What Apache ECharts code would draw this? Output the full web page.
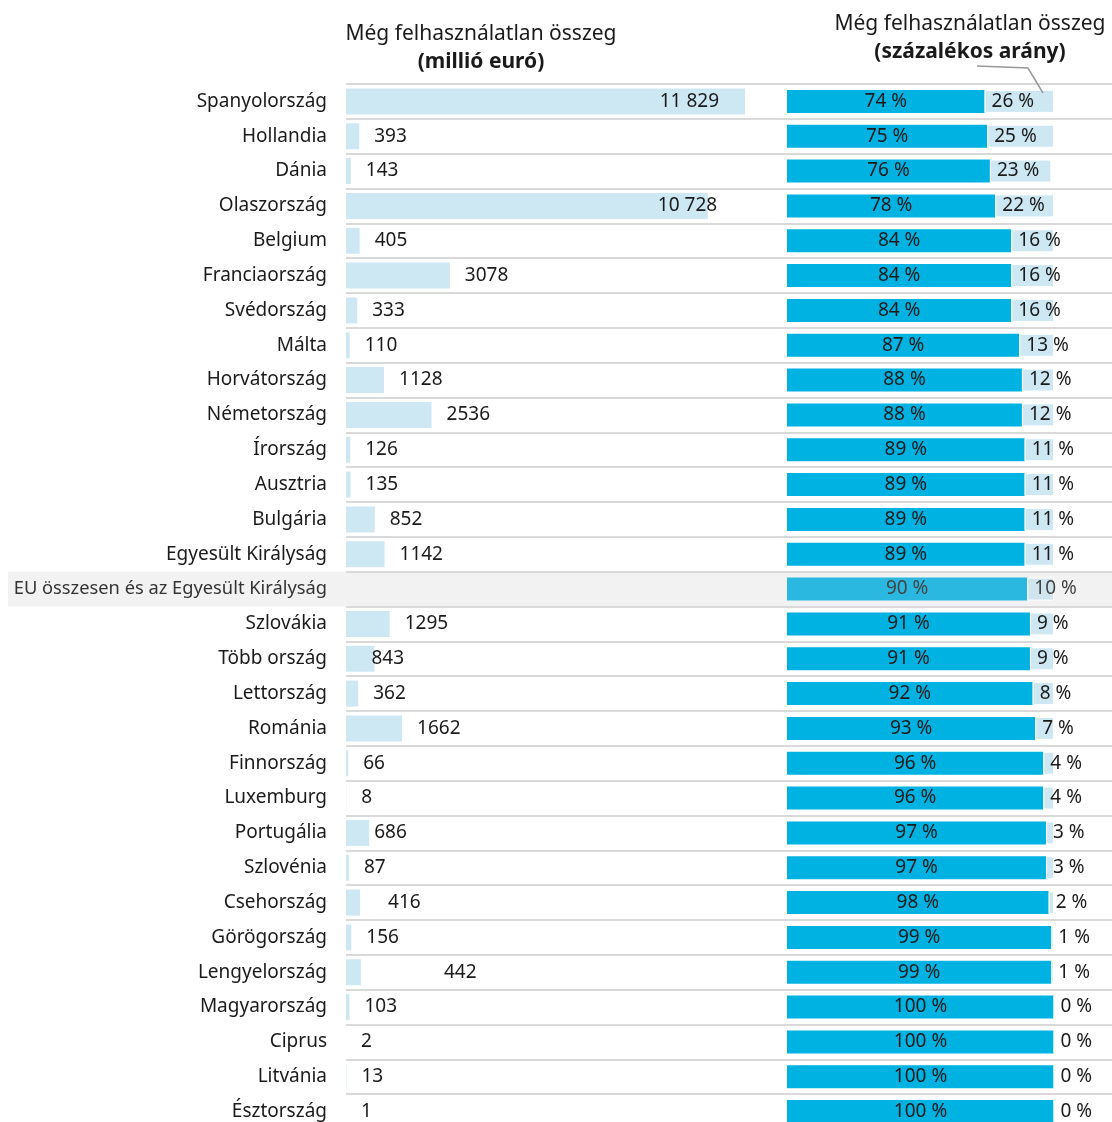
<!DOCTYPE html>
<html>
<head>
<meta charset="utf-8">
<script src="https://cdn.jsdelivr.net/npm/echarts@6/dist/echarts.min.js"></script>
<style>html,body{margin:0;padding:0;background:#fff;overflow:hidden}#c{width:1112px;height:1140px}</style>
</head>
<body>
<div id="c"></div>
<script>
const categories = ["Spanyolország","Hollandia","Dánia","Olaszország","Belgium","Franciaország","Svédország","Málta","Horvátország","Németország","Írország","Ausztria","Bulgária","Egyesült Királyság","EU összesen és az Egyesült Királyság","Szlovákia","Több ország","Lettország","Románia","Finnország","Luxemburg","Portugália","Szlovénia","Csehország","Görögország","Lengyelország","Magyarország","Ciprus","Litvánia","Észtország"];
const unusedMillion = [11829,393,143,10728,405,3078,333,110,1128,2536,126,135,852,1142,null,1295,843,362,1662,66,8,686,87,416,156,442,103,2,13,1];
const usedPct = [74,75,76,78,84,84,84,87,88,88,89,89,89,89,90,91,91,92,93,96,96,97,97,98,99,99,100,100,100,100];
const unusedPct = [26,25,23,22,16,16,16,13,12,12,11,11,11,11,10,9,9,8,7,4,4,3,3,2,1,1,0,0,0,0];
const leftTitle = ["Még felhasználatlan összeg","(millió euró)"];
const rightTitle = ["Még felhasználatlan összeg","(százalékos arány)"];
const totalRow = "EU összesen és az Egyesült Királyság";

const FONT = "Noto Sans";
const TXT = "#1a1a1a";
const DARK = "#00b2e2", LIGHT = "#cde8f3";
const DARK_T = "#2bb8e0", LIGHT_T = "#cfe4ec";
const TOP = 84, H = 1045;
const FS = 19;

const leftLabelAdj = {0:{position:'insideRight',distance:26},3:{offset:[-65,0]},16:{offset:[-18,0]},21:{offset:[-10,0]},23:{offset:[13,0]},25:{offset:[68,0]}};

function fmt(v){ v = Number(v); return v >= 10000 ? String(v).replace(/\B(?=(\d{3})+(?!\d))/g,' ') : String(v); }

const leftData = unusedMillion.map((v,i)=>{
  if (v === null) return '-';
  const o = {value:v};
  if (leftLabelAdj[i]) o.label = leftLabelAdj[i];
  return o;
});
const isTot = c => c === totalRow;
const darkData = usedPct.map((v,i)=> isTot(categories[i]) ? {value:v,itemStyle:{color:DARK_T},label:{color:'#444'}} : v);
const lightData = unusedPct.map((v,i)=> isTot(categories[i]) ? {value:v,itemStyle:{color:LIGHT_T},label:{color:'#444'}} : v);
const bgData = categories.map(c => isTot(c) ? 1 : '-');

const chart = echarts.init(document.getElementById('c'), null, {renderer:'canvas'});
const hiddenY = (gi, extra) => Object.assign({type:'category', gridIndex:gi, data:categories, inverse:true, axisLine:{show:false}, axisTick:{show:false}, axisLabel:{show:false}, splitLine:{show:false}}, extra||{});
const hiddenX = (gi, max) => ({type:'value', gridIndex:gi, min:0, max:max, show:false});

chart.setOption({
  animation:false,
  textStyle:{fontFamily:FONT},
  grid:[
    {left:346, width:399, top:TOP, height:H},
    {left:787, width:267, top:TOP, height:H},
    {left:8, right:0, top:TOP, height:H},
    {left:346, right:0, top:TOP, height:H}
  ],
  xAxis:[hiddenX(0,11829), hiddenX(1,100), hiddenX(2,1), hiddenX(3,1)],
  yAxis:[
    hiddenY(0,{z:10, axisLabel:{show:true, margin:19, fontSize:FS, color:TXT, fontFamily:FONT,
      formatter:v => isTot(v) ? '{t|' + v + '}' : v,
      rich:{t:{fontSize:18.3, color:'#333', fontFamily:FONT}}}}),
    hiddenY(1),
    hiddenY(2),
    hiddenY(3,{z:1, splitLine:{show:true, interval:0, lineStyle:{color:'#d9d9d9', width:2}}})
  ],
  series:[
    {type:'bar', xAxisIndex:2, yAxisIndex:2, data:bgData, barWidth:'100%', silent:true, z:-5, itemStyle:{color:'#f2f2f2'}},
    {type:'bar', xAxisIndex:0, yAxisIndex:0, data:leftData, barWidth:26, z:3, itemStyle:{color:LIGHT},
      label:{show:true, position:'right', distance:15, fontSize:FS, color:TXT, fontFamily:FONT, formatter:p=>fmt(p.value)}},
    {type:'bar', xAxisIndex:1, yAxisIndex:1, stack:'p', data:darkData, barWidth:23, z:3, itemStyle:{color:DARK},
      label:{show:true, position:'inside', fontSize:FS, color:TXT, fontFamily:FONT, formatter:'{c} %'}},
    {type:'bar', xAxisIndex:1, yAxisIndex:1, stack:'p', data:lightData, barWidth:23, z:3, itemStyle:{color:LIGHT, borderColor:'#fff', borderWidth:1},
      label:{show:true, position:'insideLeft', distance:7, fontSize:FS, color:TXT, fontFamily:FONT, formatter:'{c} %'}}
  ],
  graphic:[
    {type:'text', style:{x:481, y:34, text:leftTitle[0], textAlign:'center', textVerticalAlign:'middle', font:'21px "Noto Sans"', fill:TXT}},
    {type:'text', style:{x:481, y:62, text:leftTitle[1], textAlign:'center', textVerticalAlign:'middle', font:'bold 21px "Noto Sans"', fill:TXT}},
    {type:'text', style:{x:970, y:24, text:rightTitle[0], textAlign:'center', textVerticalAlign:'middle', font:'21px "Noto Sans"', fill:TXT}},
    {type:'text', style:{x:970, y:52, text:rightTitle[1], textAlign:'center', textVerticalAlign:'middle', font:'bold 21px "Noto Sans"', fill:TXT}},
    {type:'polyline', shape:{points:[[977,66],[1028,68],[1043,93]]}, style:{stroke:'#999', lineWidth:1.5, fill:null}, z:20}
  ]
});
</script>
</body>
</html>
